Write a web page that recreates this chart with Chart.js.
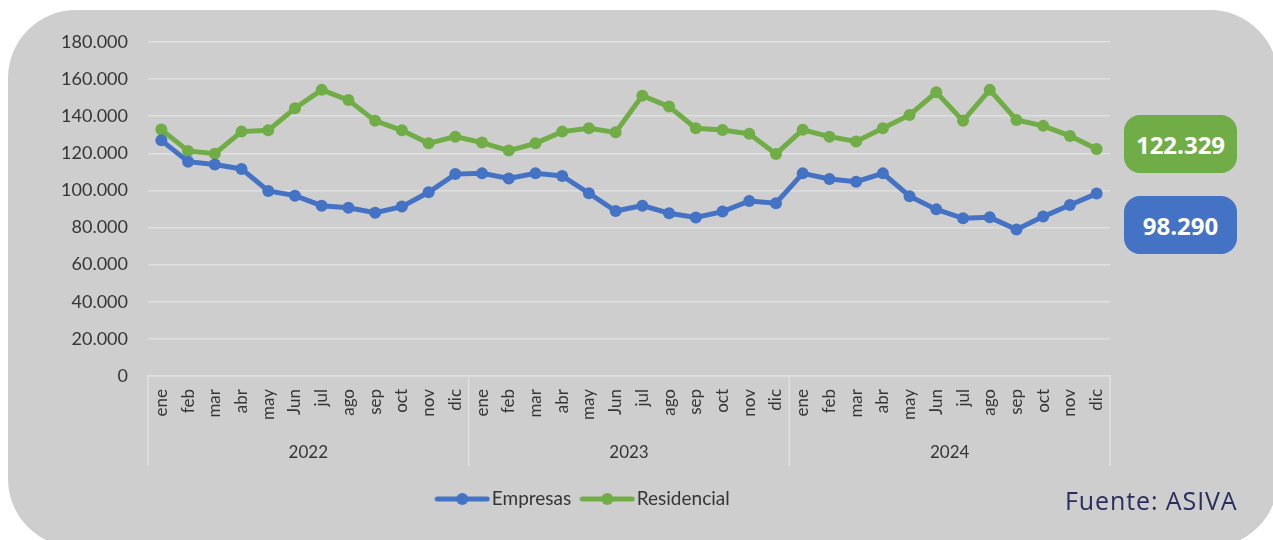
<!DOCTYPE html>
<html>
<head>
<meta charset="utf-8">
<script src="https://cdn.jsdelivr.net/npm/chart.js@4.4.1/dist/chart.umd.min.js"></script>
<style>
  body { margin: 0; background: #fff; width: 1273px; height: 540px; overflow: hidden; position: relative; }
  .panel { position: absolute; left: 8px; top: 10px; width: 1270px; height: 537px; border-radius: 68px; background: #cecece; }
  #chart { position: absolute; left: 0; top: 0; }
  .badge { position: absolute; left: 1124px; width: 113px; height: 58px; border-radius: 16px; color: #fff;
           font: 700 24px 'Open Sans', sans-serif; display: flex; align-items: center; justify-content: center; }
  .green { top: 115px; background: #70ad47; }
  .blue { top: 196px; background: #4472c4; }
  .src { position: absolute; left: 1065px; top: 485px; font: 25px/30px 'Open Sans', sans-serif; letter-spacing: 0.9px; color: #2b2d5e; }
</style>
</head>
<body>
<div class="panel"></div>
<canvas id="chart" width="1273" height="540"></canvas>
<div class="badge green" id="bRes"></div>
<div class="badge blue" id="bEmp"></div>
<div class="src">Fuente: ASIVA</div>

<script>
const years = ['2022', '2023', '2024']
const months = ['ene', 'feb', 'mar', 'abr', 'may', 'Jun', 'jul', 'ago', 'sep', 'oct', 'nov', 'dic']

const empresas = [
  127000, 115500, 114000, 111600, 99700, 97200, 91800, 90700, 88000, 91300, 99000, 108800,
  109200, 106500, 109200, 107800, 98500, 88900, 91800, 87700, 85400, 88600, 94300, 93100,
  109200, 106200, 104700, 109200, 96900, 89800, 85000, 85500, 79000, 85900, 92200, 98290
]
const residencial = [
  132800, 121300, 119800, 131700, 132400, 144300, 154200, 148700, 137500, 132400, 125400, 129000,
  125800, 121500, 125400, 131700, 133500, 131300, 151100, 145200, 133500, 132600, 130500, 119700,
  132700, 129000, 126400, 133500, 140700, 152900, 137500, 154200, 138000, 134800, 129400, 122329
]

const labels = []
years.forEach(y => months.forEach(m => labels.push(m)))

function fmt(v) {
  // miles con punto
  return String(Math.round(v)).replace(/\B(?=(\d{3})+(?!\d))/g, '.')
}

document.getElementById('bRes').innerText = fmt(residencial[residencial.length - 1])
document.getElementById('bEmp').innerText = fmt(empresas[empresas.length - 1])

const BLUE = '#4472c4'
const GREEN = '#70ad47'
const TEXT = '#363636'
const GRID = '#e0e0e0'

function legendMark(color) {
  const c = document.createElement('canvas')
  c.width = 56
  c.height = 14
  const g = c.getContext('2d')
  g.strokeStyle = color
  g.lineWidth = 5
  g.lineCap = 'round'
  g.beginPath(); g.moveTo(3, 7); g.lineTo(53, 7); g.stroke()
  g.fillStyle = color
  g.beginPath(); g.arc(28, 7, 6, 0, Math.PI * 2); g.fill()
  return c
}
const marks = [legendMark(BLUE), legendMark(GREEN)]

// etiquetas de año y separadores debajo de los meses
const yearAxis = {
  id: 'yearAxis',
  afterDraw(chart) {
    const x = chart.scales.x
    const ctx = chart.ctx
    const half = (x.getPixelForValue(1) - x.getPixelForValue(0)) / 2
    const top = chart.chartArea.bottom
    ctx.save()
    ctx.strokeStyle = GRID
    ctx.lineWidth = 1.5
    ctx.fillStyle = TEXT
    ctx.font = '17px Lato'
    ctx.textAlign = 'center'
    ctx.textBaseline = 'middle'
    years.forEach((yr, i) => {
      const a = x.getPixelForValue(i * 12) - half
      const b = x.getPixelForValue(i * 12 + 11) + half
      ctx.beginPath(); ctx.moveTo(a, top); ctx.lineTo(a, top + 90); ctx.stroke()
      if (i === years.length - 1) {
        ctx.beginPath(); ctx.moveTo(b, top); ctx.lineTo(b, top + 90); ctx.stroke()
      }
      ctx.fillText(yr, (a + b) / 2, top + 77)
    })
    ctx.restore()
  }
}

new Chart(document.getElementById('chart'), {
  type: 'line',
  data: {
    labels: labels,
    datasets: [
      {
        label: 'Empresas',
        data: empresas,
        borderColor: BLUE,
        backgroundColor: BLUE,
        pointBackgroundColor: BLUE,
        borderWidth: 5,
        pointRadius: 6,
        pointBorderWidth: 0,
        tension: 0,
        yAxisID: 'y'
      },
      {
        label: 'Residencial',
        data: residencial,
        borderColor: GREEN,
        backgroundColor: GREEN,
        pointBackgroundColor: GREEN,
        borderWidth: 5,
        pointRadius: 6,
        pointBorderWidth: 0,
        tension: 0,
        yAxisID: 'y'
      }
    ]
  },
  options: {
    responsive: false,
    animation: false,
    layout: { padding: { left: 0, right: 101, top: 42, bottom: 21.5 } },
    plugins: {
      tooltip: { enabled: false },
      legend: {
        position: 'bottom',
        labels: {
          usePointStyle: true,
          pointStyleWidth: 40,
          padding: 16,
          color: TEXT,
          font: { family: 'Lato', size: 19 },
          generateLabels: chart => chart.data.datasets.map((ds, i) => ({
            text: ds.label,
            pointStyle: marks[i],
            fillStyle: ds.borderColor,
            strokeStyle: ds.borderColor,
            lineWidth: 0,
            fontColor: TEXT,
            hidden: false,
            datasetIndex: i
          }))
        }
      }
    },
    scales: {
      x: {
        offset: true,
        grid: { display: false, drawTicks: false },
        border: { display: true, color: GRID, width: 1.5 },
        ticks: {
          autoSkip: false,
          minRotation: 90,
          maxRotation: 90,
          padding: 13,
          color: TEXT,
          font: { family: 'Lato', size: 17 }
        },
        afterFit: s => { s.height = 97.5 }
      },
      y: {
        min: 0,
        max: 180000,
        grid: { color: GRID, lineWidth: 1.5, drawTicks: false },
        border: { display: false },
        ticks: {
          stepSize: 20000,
          padding: 20,
          color: TEXT,
          font: { family: 'Lato', size: 18 },
          callback: v => fmt(v)
        },
        afterFit: s => { s.width = 148 }
      },
      y2: {
        position: 'right',
        grid: { display: false },
        border: { display: false },
        ticks: { display: false },
        afterFit: s => { s.width = 62 }
      }
    }
  },
  plugins: [yearAxis]
})
</script>
</body>
</html>
